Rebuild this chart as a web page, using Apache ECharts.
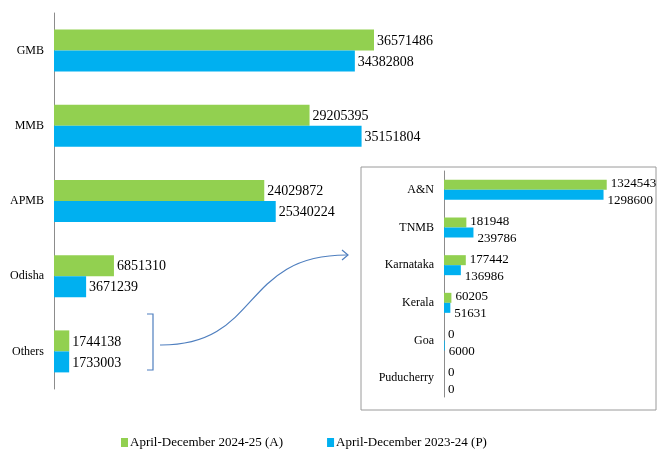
<!DOCTYPE html>
<html>
<head>
<meta charset="utf-8">
<script src="https://cdn.jsdelivr.net/npm/echarts@6/dist/echarts.min.js"></script>
<style>
  html, body { margin: 0; padding: 0; background: #fff; }
  #chart { width: 664px; height: 450px; }
</style>
</head>
<body>
<div id="chart"></div>
<script>
// main chart: large boards
var mainCats = ['GMB', 'MMB', 'APMB', 'Odisha', 'Others'];
var mainCurrent = [36571486, 29205395, 24029872, 6851310, 1744138];
var mainPrevious = [34382808, 35151804, 25340224, 3671239, 1733003];

// inset: breakdown of "Others"
var otherCats = ['A&N', 'TNMB', 'Karnataka', 'Kerala', 'Goa', 'Puducherry'];
var otherCurrent = [1324543, 181948, 177442, 60205, 0, 0];
var otherPrevious = [1298600, 239786, 136986, 51631, 6000, 0];

var seriesNames = ['April-December 2024-25 (A)', 'April-December 2023-24 (P)'];

var GREEN = '#92D050';
var BLUE = '#00B0F0';
var FONT = 'Liberation Serif';

var chart = echarts.init(document.getElementById('chart'));

function catAxis(gridIndex, data, fontSize) {
    return {
        type: 'category',
        gridIndex: gridIndex,
        data: data,
        inverse: true,
        axisLine: { lineStyle: { color: '#8c8c8c' } },
        axisTick: { length: 4, lineStyle: { color: '#8c8c8c' } },
        axisLabel: { color: '#000', fontFamily: FONT, fontSize: fontSize, margin: 10 }
    };
}

function valAxis(gridIndex, max) {
    return {
        type: 'value',
        gridIndex: gridIndex,
        min: 0,
        max: max,
        show: false,
        splitLine: { show: false }
    };
}

function barSeries(name, idx, data, color, width, fontSize, dy, dist) {
    return {
        name: name,
        type: 'bar',
        xAxisIndex: idx,
        yAxisIndex: idx,
        data: data,
        barWidth: width,
        barGap: '0%',
        itemStyle: { color: color },
        label: {
            show: true,
            position: 'right',
            distance: dist,
            offset: [0, dy],
            color: '#000',
            fontFamily: FONT,
            fontSize: fontSize
        }
    };
}

chart.setOption({
    animation: false,
    grid: [
        { left: 54, top: 13, width: 350, height: 376 },
        { left: 444, top: 171, width: 172, height: 226 }
    ],
    xAxis: [valAxis(0, 40000000), valAxis(1, 1400000)],
    yAxis: [catAxis(0, mainCats, 12), catAxis(1, otherCats, 12)],
    legend: {
        left: 116,
        top: 431,
        itemWidth: 7,
        itemHeight: 9,
        itemGap: 44,
        icon: 'rect',
        textStyle: { fontFamily: FONT, fontSize: 13, color: '#000', padding: [0, 0, 0, -3] },
        data: seriesNames
    },
    graphic: [
        {
            type: 'rect',
            shape: { x: 361, y: 167, width: 295, height: 243 },
            style: { fill: 'none', stroke: '#9a9a9a', lineWidth: 1 }
        },
        {
            type: 'polyline',
            shape: { points: [[147, 314], [153, 314], [153, 370], [147, 370]] },
            style: { fill: 'none', stroke: '#4f7fbf', lineWidth: 1.2 }
        },
        {
            type: 'bezierCurve',
            shape: { x1: 160, y1: 345, cpx1: 262, cpy1: 346, cpx2: 240, cpy2: 254, x2: 348, y2: 255 },
            style: { fill: 'none', stroke: '#4f7fbf', lineWidth: 1.2 }
        },
        {
            type: 'polyline',
            shape: { points: [[342, 250], [348, 255], [342, 260]] },
            style: { fill: 'none', stroke: '#4f7fbf', lineWidth: 1.2 }
        }
    ],
    series: [
        barSeries(seriesNames[0], 0, mainCurrent, GREEN, 21, 14, 1, 3),
        barSeries(seriesNames[1], 0, mainPrevious, BLUE, 21, 14, 1, 3),
        barSeries(seriesNames[0], 1, otherCurrent, GREEN, 10, 13, -1, 4),
        barSeries(seriesNames[1], 1, otherPrevious, BLUE, 10, 13, 6, 4)
    ]
});
</script>
</body>
</html>
